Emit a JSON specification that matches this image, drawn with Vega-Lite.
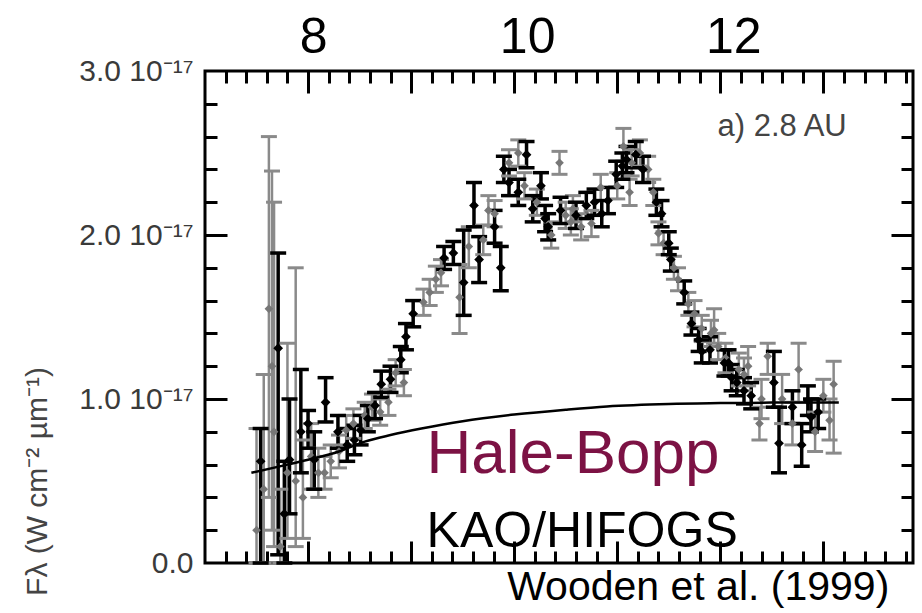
{
  "$schema": "https://vega.github.io/schema/vega-lite/v6.json",
  "width": 708,
  "height": 492,
  "autosize": {"type": "none"},
  "padding": {"left": 205, "top": 71, "right": 9, "bottom": 50},
  "background": "white",
  "config": {
    "view": {"stroke": "black", "strokeWidth": 3},
    "font": "Liberation Sans",
    "axis": {"domain": false, "grid": false}
  },
  "resolve": {"axis": {"x": "independent", "y": "independent"}},
  "datasets": {
    "pts": [
      {"s": "g", "x": 7.50, "y": 0.20, "lo": 0.0, "hi": 0.82},
      {"s": "g", "x": 7.57, "y": 0.45, "lo": 0.0, "hi": 1.15},
      {"s": "g", "x": 7.62, "y": 1.55, "lo": 0.40, "hi": 2.60},
      {"s": "g", "x": 7.65, "y": 1.20, "lo": 0.20, "hi": 2.39},
      {"s": "g", "x": 7.67, "y": 0.80, "lo": 0.10, "hi": 2.20},
      {"s": "g", "x": 7.73, "y": 0.10, "lo": 0.0, "hi": 0.45},
      {"s": "g", "x": 7.80, "y": 0.55, "lo": 0.15, "hi": 1.34},
      {"s": "g", "x": 7.88, "y": 0.50, "lo": 0.10, "hi": 1.80},
      {"s": "g", "x": 7.95, "y": 0.40, "lo": 0.15, "hi": 0.75},
      {"s": "g", "x": 8.03, "y": 0.65, "lo": 0.45, "hi": 0.85},
      {"s": "g", "x": 8.10, "y": 0.55, "lo": 0.40, "hi": 0.70},
      {"s": "g", "x": 8.16, "y": 0.55, "lo": 0.45, "hi": 0.65},
      {"s": "g", "x": 8.22, "y": 0.62, "lo": 0.52, "hi": 0.72},
      {"s": "g", "x": 8.30, "y": 0.68, "lo": 0.58, "hi": 0.78},
      {"s": "g", "x": 8.37, "y": 0.81, "lo": 0.72, "hi": 0.90},
      {"s": "g", "x": 8.44, "y": 0.85, "lo": 0.76, "hi": 0.94},
      {"s": "g", "x": 8.55, "y": 0.90, "lo": 0.82, "hi": 0.98},
      {"s": "g", "x": 8.62, "y": 0.95, "lo": 0.87, "hi": 1.03},
      {"s": "g", "x": 8.70, "y": 0.92, "lo": 0.84, "hi": 1.00},
      {"s": "g", "x": 8.78, "y": 0.98, "lo": 0.90, "hi": 1.06},
      {"s": "g", "x": 8.85, "y": 1.16, "lo": 1.08, "hi": 1.24},
      {"s": "g", "x": 8.93, "y": 1.10, "lo": 1.02, "hi": 1.18},
      {"s": "g", "x": 9.12, "y": 1.59, "lo": 1.51, "hi": 1.67},
      {"s": "g", "x": 9.18, "y": 1.65, "lo": 1.57, "hi": 1.73},
      {"s": "g", "x": 9.24, "y": 1.73, "lo": 1.65, "hi": 1.81},
      {"s": "g", "x": 9.29, "y": 1.77, "lo": 1.69, "hi": 1.85},
      {"s": "g", "x": 9.47, "y": 1.62, "lo": 1.40, "hi": 1.82},
      {"s": "g", "x": 9.56, "y": 1.93, "lo": 1.80, "hi": 2.05},
      {"s": "g", "x": 9.70, "y": 1.97, "lo": 1.88, "hi": 2.06},
      {"s": "g", "x": 9.75, "y": 2.15, "lo": 2.06, "hi": 2.24},
      {"s": "g", "x": 9.81, "y": 2.13, "lo": 2.05, "hi": 2.21},
      {"s": "g", "x": 9.95, "y": 2.44, "lo": 2.36, "hi": 2.52},
      {"s": "g", "x": 10.04, "y": 2.50, "lo": 2.42, "hi": 2.58},
      {"s": "g", "x": 10.10, "y": 2.30, "lo": 2.22, "hi": 2.38},
      {"s": "g", "x": 10.22, "y": 2.20, "lo": 2.12, "hi": 2.28},
      {"s": "g", "x": 10.36, "y": 2.00, "lo": 1.92, "hi": 2.08},
      {"s": "g", "x": 10.44, "y": 2.44, "lo": 2.37, "hi": 2.51},
      {"s": "g", "x": 10.50, "y": 2.12, "lo": 2.04, "hi": 2.20},
      {"s": "g", "x": 10.55, "y": 2.08, "lo": 2.00, "hi": 2.16},
      {"s": "g", "x": 10.57, "y": 2.16, "lo": 2.08, "hi": 2.24},
      {"s": "g", "x": 10.65, "y": 2.05, "lo": 1.97, "hi": 2.13},
      {"s": "g", "x": 10.75, "y": 2.07, "lo": 1.99, "hi": 2.15},
      {"s": "g", "x": 10.84, "y": 2.29, "lo": 2.21, "hi": 2.37},
      {"s": "g", "x": 11.00, "y": 2.30, "lo": 2.22, "hi": 2.38},
      {"s": "g", "x": 11.06, "y": 2.54, "lo": 2.45, "hi": 2.65},
      {"s": "g", "x": 11.12, "y": 2.26, "lo": 2.18, "hi": 2.34},
      {"s": "g", "x": 11.14, "y": 2.44, "lo": 2.36, "hi": 2.52},
      {"s": "g", "x": 11.22, "y": 2.50, "lo": 2.42, "hi": 2.58},
      {"s": "g", "x": 11.30, "y": 2.40, "lo": 2.32, "hi": 2.48},
      {"s": "g", "x": 11.35, "y": 2.26, "lo": 2.18, "hi": 2.34},
      {"s": "g", "x": 11.40, "y": 2.01, "lo": 1.94, "hi": 2.08},
      {"s": "g", "x": 11.45, "y": 1.95, "lo": 1.88, "hi": 2.02},
      {"s": "g", "x": 11.55, "y": 1.80, "lo": 1.73, "hi": 1.87},
      {"s": "g", "x": 11.59, "y": 1.73, "lo": 1.66, "hi": 1.80},
      {"s": "g", "x": 11.69, "y": 1.58, "lo": 1.51, "hi": 1.65},
      {"s": "g", "x": 11.75, "y": 1.52, "lo": 1.44, "hi": 1.60},
      {"s": "g", "x": 11.82, "y": 1.43, "lo": 1.35, "hi": 1.51},
      {"s": "g", "x": 11.91, "y": 1.40, "lo": 1.32, "hi": 1.48},
      {"s": "g", "x": 11.94, "y": 1.42, "lo": 1.34, "hi": 1.55},
      {"s": "g", "x": 11.98, "y": 1.32, "lo": 1.24, "hi": 1.40},
      {"s": "g", "x": 12.05, "y": 1.25, "lo": 1.16, "hi": 1.34},
      {"s": "g", "x": 12.18, "y": 1.18, "lo": 1.08, "hi": 1.28},
      {"s": "g", "x": 12.23, "y": 1.15, "lo": 1.05, "hi": 1.25},
      {"s": "g", "x": 12.27, "y": 1.20, "lo": 1.08, "hi": 1.32},
      {"s": "g", "x": 12.38, "y": 0.85, "lo": 0.75, "hi": 0.95},
      {"s": "g", "x": 12.40, "y": 1.00, "lo": 0.88, "hi": 1.12},
      {"s": "g", "x": 12.46, "y": 1.26, "lo": 1.15, "hi": 1.34},
      {"s": "g", "x": 12.60, "y": 1.00, "lo": 0.85, "hi": 1.15},
      {"s": "g", "x": 12.70, "y": 0.85, "lo": 0.72, "hi": 0.98},
      {"s": "g", "x": 12.76, "y": 1.18, "lo": 0.98, "hi": 1.34},
      {"s": "g", "x": 12.92, "y": 0.80, "lo": 0.68, "hi": 0.92},
      {"s": "g", "x": 13.00, "y": 1.02, "lo": 0.92, "hi": 1.12},
      {"s": "g", "x": 13.06, "y": 0.87, "lo": 0.75, "hi": 1.00},
      {"s": "g", "x": 13.10, "y": 1.09, "lo": 0.67, "hi": 1.23},
      {"s": "b", "x": 7.54, "y": 0.62, "lo": 0.0, "hi": 0.82},
      {"s": "b", "x": 7.71, "y": 1.31, "lo": 0.05, "hi": 1.89},
      {"s": "b", "x": 7.77, "y": 0.30, "lo": 0.0, "hi": 0.62},
      {"s": "b", "x": 7.82, "y": 0.63, "lo": 0.30, "hi": 1.00},
      {"s": "b", "x": 7.93, "y": 0.80, "lo": 0.55, "hi": 1.18},
      {"s": "b", "x": 8.00, "y": 0.85, "lo": 0.70, "hi": 0.93},
      {"s": "b", "x": 8.06, "y": 0.63, "lo": 0.45, "hi": 0.80},
      {"s": "b", "x": 8.17, "y": 0.98, "lo": 0.86, "hi": 1.13},
      {"s": "b", "x": 8.29, "y": 0.80, "lo": 0.70, "hi": 0.90},
      {"s": "b", "x": 8.38, "y": 0.72, "lo": 0.62, "hi": 0.82},
      {"s": "b", "x": 8.45, "y": 0.75, "lo": 0.66, "hi": 0.84},
      {"s": "b", "x": 8.51, "y": 0.81, "lo": 0.72, "hi": 0.90},
      {"s": "b", "x": 8.58, "y": 0.88, "lo": 0.80, "hi": 0.96},
      {"s": "b", "x": 8.65, "y": 0.96, "lo": 0.88, "hi": 1.04},
      {"s": "b", "x": 8.71, "y": 1.09, "lo": 1.01, "hi": 1.17},
      {"s": "b", "x": 8.80, "y": 1.12, "lo": 1.04, "hi": 1.20},
      {"s": "b", "x": 8.90, "y": 1.24, "lo": 1.16, "hi": 1.32},
      {"s": "b", "x": 8.95, "y": 1.38, "lo": 1.30, "hi": 1.46},
      {"s": "b", "x": 9.02, "y": 1.52, "lo": 1.44, "hi": 1.60},
      {"s": "b", "x": 9.32, "y": 1.86, "lo": 1.79, "hi": 1.93},
      {"s": "b", "x": 9.41, "y": 1.89, "lo": 1.82, "hi": 1.96},
      {"s": "b", "x": 9.51, "y": 1.71, "lo": 1.51, "hi": 2.03},
      {"s": "b", "x": 9.61, "y": 2.18, "lo": 2.05, "hi": 2.32},
      {"s": "b", "x": 9.66, "y": 1.85, "lo": 1.71, "hi": 1.99},
      {"s": "b", "x": 9.81, "y": 2.05, "lo": 1.95, "hi": 2.15},
      {"s": "b", "x": 9.87, "y": 1.80, "lo": 1.66, "hi": 1.93},
      {"s": "b", "x": 9.90, "y": 2.40, "lo": 2.32, "hi": 2.48},
      {"s": "b", "x": 9.95, "y": 2.32, "lo": 2.24, "hi": 2.40},
      {"s": "b", "x": 10.04, "y": 2.26, "lo": 2.18, "hi": 2.34},
      {"s": "b", "x": 10.12, "y": 2.49, "lo": 2.41, "hi": 2.57},
      {"s": "b", "x": 10.18, "y": 2.16, "lo": 2.08, "hi": 2.24},
      {"s": "b", "x": 10.26, "y": 2.30, "lo": 2.22, "hi": 2.38},
      {"s": "b", "x": 10.30, "y": 2.10, "lo": 2.02, "hi": 2.18},
      {"s": "b", "x": 10.33, "y": 2.05, "lo": 1.97, "hi": 2.13},
      {"s": "b", "x": 10.45, "y": 2.15, "lo": 2.07, "hi": 2.23},
      {"s": "b", "x": 10.60, "y": 2.12, "lo": 2.04, "hi": 2.20},
      {"s": "b", "x": 10.70, "y": 2.18, "lo": 2.10, "hi": 2.26},
      {"s": "b", "x": 10.78, "y": 2.20, "lo": 2.12, "hi": 2.28},
      {"s": "b", "x": 10.85, "y": 2.13, "lo": 2.05, "hi": 2.21},
      {"s": "b", "x": 10.91, "y": 2.21, "lo": 2.13, "hi": 2.29},
      {"s": "b", "x": 10.99, "y": 2.37, "lo": 2.29, "hi": 2.45},
      {"s": "b", "x": 11.05, "y": 2.42, "lo": 2.34, "hi": 2.50},
      {"s": "b", "x": 11.09, "y": 2.46, "lo": 2.38, "hi": 2.54},
      {"s": "b", "x": 11.18, "y": 2.49, "lo": 2.41, "hi": 2.57},
      {"s": "b", "x": 11.25, "y": 2.40, "lo": 2.32, "hi": 2.48},
      {"s": "b", "x": 11.38, "y": 2.20, "lo": 2.12, "hi": 2.28},
      {"s": "b", "x": 11.43, "y": 2.13, "lo": 2.05, "hi": 2.21},
      {"s": "b", "x": 11.50, "y": 1.95, "lo": 1.88, "hi": 2.02},
      {"s": "b", "x": 11.52, "y": 1.85, "lo": 1.78, "hi": 1.92},
      {"s": "b", "x": 11.65, "y": 1.65, "lo": 1.58, "hi": 1.72},
      {"s": "b", "x": 11.72, "y": 1.46, "lo": 1.39, "hi": 1.53},
      {"s": "b", "x": 11.79, "y": 1.36, "lo": 1.29, "hi": 1.43},
      {"s": "b", "x": 11.82, "y": 1.29, "lo": 1.22, "hi": 1.36},
      {"s": "b", "x": 11.90, "y": 1.30, "lo": 1.22, "hi": 1.38},
      {"s": "b", "x": 12.04, "y": 1.22, "lo": 1.14, "hi": 1.30},
      {"s": "b", "x": 12.08, "y": 1.22, "lo": 1.14, "hi": 1.30},
      {"s": "b", "x": 12.11, "y": 1.13, "lo": 1.05, "hi": 1.21},
      {"s": "b", "x": 12.16, "y": 1.10, "lo": 1.02, "hi": 1.18},
      {"s": "b", "x": 12.23, "y": 1.05, "lo": 0.97, "hi": 1.13},
      {"s": "b", "x": 12.30, "y": 1.02, "lo": 0.94, "hi": 1.10},
      {"s": "b", "x": 12.52, "y": 1.10, "lo": 0.95, "hi": 1.29},
      {"s": "b", "x": 12.57, "y": 0.73, "lo": 0.55, "hi": 0.95},
      {"s": "b", "x": 12.70, "y": 0.95, "lo": 0.85, "hi": 1.05},
      {"s": "b", "x": 12.79, "y": 0.72, "lo": 0.59, "hi": 0.85},
      {"s": "b", "x": 12.85, "y": 0.99, "lo": 0.90, "hi": 1.08},
      {"s": "b", "x": 12.88, "y": 0.89, "lo": 0.80, "hi": 1.00},
      {"s": "b", "x": 12.95, "y": 0.92, "lo": 0.82, "hi": 1.00}
    ],
    "cont": [
      {"x": 7.45, "y": 0.55}, {"x": 7.8, "y": 0.60}, {"x": 8.0, "y": 0.63},
      {"x": 8.3, "y": 0.68}, {"x": 8.55, "y": 0.74}, {"x": 8.8, "y": 0.78},
      {"x": 9.1, "y": 0.82}, {"x": 9.5, "y": 0.865}, {"x": 10.0, "y": 0.905},
      {"x": 10.5, "y": 0.935}, {"x": 10.9, "y": 0.955}, {"x": 11.5, "y": 0.97},
      {"x": 12.0, "y": 0.975}, {"x": 12.5, "y": 0.978}, {"x": 13.15, "y": 0.978}
    ]
  },
  "layer": [
    {
      "data": {"name": "pts"},
      "transform": [{"filter": "datum.s == 'g'"}],
      "mark": {"type": "rule", "color": "#8a8a8a", "strokeWidth": 2.5},
      "encoding": {
        "x": {"field": "x", "type": "quantitative", "scale": {"domain": [7, 13.87], "nice": false, "zero": false},
          "axis": {"orient": "top", "values": [8, 10, 12], "ticks": false, "title": null, "labelFontSize": 50, "labelColor": "black", "labelFont": "Liberation Sans", "labelPadding": 19, "labelBaseline": "alphabetic", "labelFlush": false,
            "labelOffset": {"condition": {"test": "datum.value == 8", "value": 5}, "value": 13}}},
        "y": {"field": "lo", "type": "quantitative", "scale": {"domain": [0, 3], "nice": false, "zero": false},
          "axis": {"orient": "left", "values": [0, 1, 2, 3], "ticks": false, "labelFontSize": 30, "labelColor": "#3a3a3a", "labelPadding": 12, "labelFlush": false,
            "labelExpr": "datum.value == 0 ? '0.0' : format(datum.value, '.1f') + ' 10⁻¹⁷'",
            "title": "Fλ (W cm⁻² µm⁻¹)", "titleFontSize": 30, "titleFontWeight": "normal", "titleColor": "#444444", "titleFont": "Liberation Sans",
            "titleX": -168, "titleY": 410, "titleAngle": -90, "titleAlign": "center", "titleBaseline": "middle"}},
        "y2": {"field": "hi"}
      }
    },
    {
      "data": {"name": "pts"},
      "transform": [{"filter": "datum.s == 'b'"}],
      "mark": {"type": "rule", "color": "black", "strokeWidth": 3.5},
      "encoding": {
        "x": {"field": "x", "type": "quantitative", "scale": {"domain": [7, 13.87], "nice": false, "zero": false},
          "axis": {"orient": "top", "values": [8, 9, 10, 11, 12, 13], "labels": false, "title": null, "tickSize": -22, "tickWidth": 3, "tickColor": "black"}},
        "y": {"field": "lo", "type": "quantitative", "scale": {"domain": [0, 3], "nice": false, "zero": false},
          "axis": {"orient": "left", "values": [1, 2], "labels": false, "title": null, "tickSize": -22, "tickWidth": 3, "tickColor": "black"}},
        "y2": {"field": "hi"}
      }
    },
    {
      "data": {"name": "pts"},
      "transform": [{"filter": "datum.s == 'g'"}],
      "mark": {"type": "tick", "orient": "horizontal", "color": "#8a8a8a", "size": 16, "thickness": 3, "opacity": 1},
      "encoding": {
        "x": {"field": "x", "type": "quantitative", "scale": {"domain": [7, 13.87], "nice": false, "zero": false},
          "axis": {"orient": "bottom", "values": [8, 9, 10, 11, 12, 13], "labels": false, "title": null, "tickSize": -22, "tickWidth": 3, "tickColor": "black"}},
        "y": {"field": "hi", "type": "quantitative", "scale": {"domain": [0, 3], "nice": false, "zero": false},
          "axis": {"orient": "right", "values": [1, 2], "labels": false, "title": null, "tickSize": -22, "tickWidth": 3, "tickColor": "black"}}
      }
    },
    {
      "data": {"name": "pts"},
      "transform": [{"filter": "datum.s == 'g'"}],
      "mark": {"type": "tick", "orient": "horizontal", "color": "#8a8a8a", "size": 16, "thickness": 3, "opacity": 1},
      "encoding": {
        "x": {"field": "x", "type": "quantitative", "scale": {"domain": [7, 13.87], "nice": false, "zero": false},
          "axis": {"orient": "top", "values": [7.2, 7.4, 7.6, 7.8, 8.2, 8.4, 8.6, 8.8, 9.2, 9.4, 9.6, 9.8, 10.2, 10.4, 10.6, 10.8, 11.2, 11.4, 11.6, 11.8, 12.2, 12.4, 12.6, 12.8, 13.2, 13.4, 13.6, 13.8], "labels": false, "title": null, "tickSize": -12, "tickWidth": 3, "tickColor": "black"}},
        "y": {"field": "lo", "type": "quantitative", "scale": {"domain": [0, 3], "nice": false, "zero": false},
          "axis": {"orient": "left", "values": [0.2, 0.4, 0.6, 0.8, 1.2, 1.4, 1.6, 1.8, 2.2, 2.4, 2.6, 2.8], "labels": false, "title": null, "tickSize": -12, "tickWidth": 3, "tickColor": "black"}}
      }
    },
    {
      "data": {"name": "pts"},
      "transform": [{"filter": "datum.s == 'b'"}],
      "mark": {"type": "tick", "orient": "horizontal", "color": "black", "size": 16, "thickness": 3.5, "opacity": 1},
      "encoding": {
        "x": {"field": "x", "type": "quantitative", "scale": {"domain": [7, 13.87], "nice": false, "zero": false},
          "axis": {"orient": "bottom", "values": [7.2, 7.4, 7.6, 7.8, 8.2, 8.4, 8.6, 8.8, 9.2, 9.4, 9.6, 9.8, 10.2, 10.4, 10.6, 10.8, 11.2, 11.4, 11.6, 11.8, 12.2, 12.4, 12.6, 12.8, 13.2, 13.4, 13.6, 13.8], "labels": false, "title": null, "tickSize": -12, "tickWidth": 3, "tickColor": "black"}},
        "y": {"field": "hi", "type": "quantitative", "scale": {"domain": [0, 3], "nice": false, "zero": false},
          "axis": {"orient": "right", "values": [0.2, 0.4, 0.6, 0.8, 1.2, 1.4, 1.6, 1.8, 2.2, 2.4, 2.6, 2.8], "labels": false, "title": null, "tickSize": -12, "tickWidth": 3, "tickColor": "black"}}
      }
    },
    {
      "data": {"name": "pts"},
      "transform": [{"filter": "datum.s == 'b'"}],
      "mark": {"type": "tick", "orient": "horizontal", "color": "black", "size": 16, "thickness": 3.5, "opacity": 1},
      "encoding": {
        "x": {"field": "x", "type": "quantitative", "scale": {"domain": [7, 13.87], "nice": false, "zero": false}, "axis": null},
        "y": {"field": "lo", "type": "quantitative", "scale": {"domain": [0, 3], "nice": false, "zero": false}, "axis": null}
      }
    },
    {
      "data": {"name": "pts"},
      "transform": [{"filter": "datum.s == 'g'"}],
      "mark": {"type": "point", "shape": "diamond", "filled": true, "color": "#777777", "size": 75, "opacity": 1},
      "encoding": {
        "x": {"field": "x", "type": "quantitative", "scale": {"domain": [7, 13.87], "nice": false, "zero": false}, "axis": null},
        "y": {"field": "y", "type": "quantitative", "scale": {"domain": [0, 3], "nice": false, "zero": false}, "axis": null}
      }
    },
    {
      "data": {"name": "pts"},
      "transform": [{"filter": "datum.s == 'b'"}],
      "mark": {"type": "point", "shape": "diamond", "filled": true, "color": "black", "size": 95, "opacity": 1},
      "encoding": {
        "x": {"field": "x", "type": "quantitative", "scale": {"domain": [7, 13.87], "nice": false, "zero": false}, "axis": null},
        "y": {"field": "y", "type": "quantitative", "scale": {"domain": [0, 3], "nice": false, "zero": false}, "axis": null}
      }
    },
    {
      "data": {"name": "cont"},
      "mark": {"type": "line", "color": "black", "strokeWidth": 2.5, "interpolate": "monotone"},
      "encoding": {
        "x": {"field": "x", "type": "quantitative", "scale": {"domain": [7, 13.87], "nice": false, "zero": false}, "axis": null},
        "y": {"field": "y", "type": "quantitative", "scale": {"domain": [0, 3], "nice": false, "zero": false}, "axis": null}
      }
    },
    {
      "data": {"values": [{}]},
      "mark": {"type": "text", "text": "a) 2.8 AU", "font": "Liberation Sans", "fontSize": 31, "color": "#444444", "align": "center", "baseline": "middle"},
      "encoding": {
        "x": {"datum": 12.6, "type": "quantitative", "scale": {"domain": [7, 13.87], "nice": false, "zero": false}, "axis": null},
        "y": {"datum": 2.66, "type": "quantitative", "scale": {"domain": [0, 3], "nice": false, "zero": false}, "axis": null}
      }
    },
    {
      "data": {"values": [{}]},
      "mark": {"type": "text", "text": "Hale-Bopp", "font": "Liberation Sans", "fontSize": 62, "color": "#7c1244", "align": "left", "baseline": "alphabetic"},
      "encoding": {
        "x": {"datum": 9.15, "type": "quantitative", "scale": {"domain": [7, 13.87], "nice": false, "zero": false}, "axis": null},
        "y": {"datum": 0.55, "type": "quantitative", "scale": {"domain": [0, 3], "nice": false, "zero": false}, "axis": null}
      }
    },
    {
      "data": {"values": [{}]},
      "mark": {"type": "text", "text": "KAO/HIFOGS", "font": "Liberation Sans", "fontSize": 50, "color": "black", "align": "left", "baseline": "alphabetic"},
      "encoding": {
        "x": {"datum": 9.15, "type": "quantitative", "scale": {"domain": [7, 13.87], "nice": false, "zero": false}, "axis": null},
        "y": {"datum": 0.098, "type": "quantitative", "scale": {"domain": [0, 3], "nice": false, "zero": false}, "axis": null}
      }
    },
    {
      "data": {"values": [{}]},
      "mark": {"type": "text", "text": "Wooden et al. (1999)", "font": "Liberation Sans", "fontSize": 41, "color": "black", "align": "right", "baseline": "alphabetic"},
      "encoding": {
        "x": {"datum": 13.64, "type": "quantitative", "scale": {"domain": [7, 13.87], "nice": false, "zero": false}, "axis": null},
        "y": {"datum": -0.226, "type": "quantitative", "scale": {"domain": [0, 3], "nice": false, "zero": false}, "axis": null}
      }
    }
  ]
}
